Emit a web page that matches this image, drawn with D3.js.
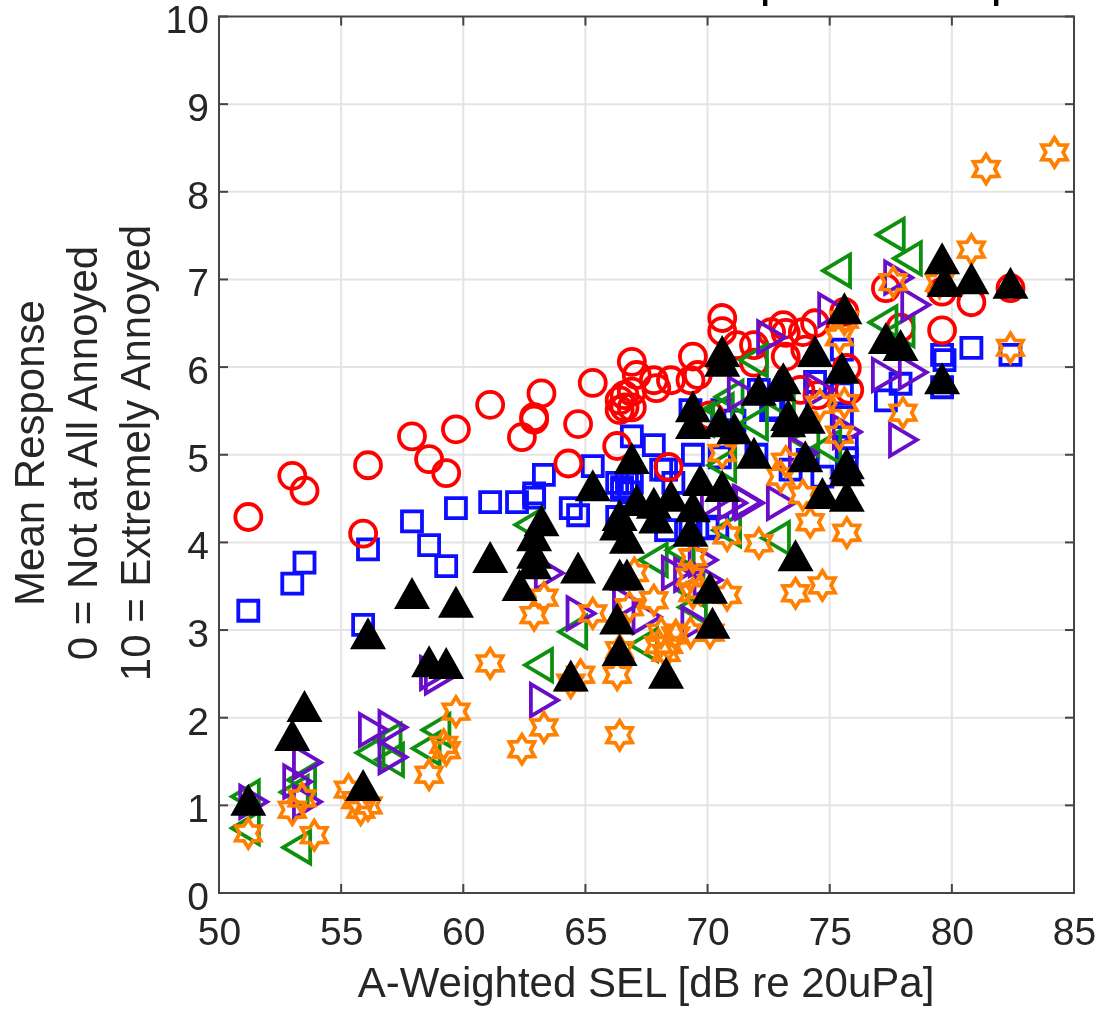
<!DOCTYPE html>
<html><head><meta charset="utf-8">
<script src="https://cdn.jsdelivr.net/npm/d3@7"></script>
<style>html,body{margin:0;padding:0;background:#fff}svg{display:block}text{font-family:"Liberation Sans",Arial,sans-serif}</style>
</head><body><svg id="c" width="1099" height="1012"></svg>
<script>
const xTicks=[50,55,60,65,70,75,80,85];
const yTicks=[0,1,2,3,4,5,6,7,8,9,10];
const xLabel="A-Weighted SEL [dB re 20uPa]";
const yLabels=["Mean Response","0 = Not at All Annoyed","10 = Extremely Annoyed"];
const titleText="Mean Data for All Stimuli: Mean Response for Group 1";
const red=[[51.2,4.29],[53,4.76],[53.5,4.59],[55.9,4.1],[56.1,4.88],[57.9,5.21],[58.6,4.95],[59.3,4.79],[59.7,5.29],[61.1,5.57],[62.4,5.2],[62.9,5.43],[62.9,5.4],[63.2,5.7],[64.3,4.9],[64.7,5.35],[65.3,5.82],[66.9,6.06],[66.3,5.1],[66.4,5.51],[66.4,5.62],[66.6,5.68],[66.9,5.72],[66.6,5.54],[66.9,5.54],[67.1,5.91],[67.8,5.85],[67.9,5.76],[68.5,5.85],[69.3,5.85],[69.4,6.12],[69.6,5.91],[68.4,4.86],[70.1,5.45],[70.6,6.56],[70.6,6.41],[71.2,6.25],[71.9,6.25],[71.9,6.05],[72.6,6.4],[73.1,6.48],[73.2,6.39],[73.9,6.4],[74.4,6.5],[73.2,6.12],[73.8,5.74],[74.5,5.68],[75.6,6.63],[75.7,5.99],[75.8,5.74],[77.3,6.9],[77.9,6.45],[79.6,6.86],[79.6,6.42],[80.8,6.74],[82.4,6.9],[74,6.2]];
const blue=[[51.2,3.22],[53,3.53],[53.5,3.77],[55.9,3.06],[56.1,3.92],[57.9,4.24],[58.6,3.97],[59.3,3.73],[59.7,4.39],[61.1,4.46],[62.2,4.46],[62.9,4.56],[62.9,4.51],[63.3,4.77],[64.4,4.39],[64.7,4.31],[65.3,4.87],[66.9,5.21],[67.8,5.11],[66.3,4.68],[66.7,4.68],[66.9,4.68],[66.5,4.63],[66.5,4.6],[66.8,4.57],[66.3,4.29],[68.3,4.83],[68.1,4.83],[68.6,4.68],[69.4,5],[68.3,4.14],[70,4.16],[70.4,4.18],[72,5],[69.3,5.51],[70.6,5.51],[71.1,5.39],[72.7,5.53],[72.6,5.51],[72.1,5.74],[74.4,5.83],[75.5,6.2],[75.5,5.7],[75.5,5.43],[75.7,4.96],[75.7,5.09],[73.4,4.83],[74.7,4.75],[74.1,4.94],[70.5,4.97],[77.3,5.62],[77.9,5.81],[79.6,6.14],[79.7,6.08],[79.6,5.77],[80.8,6.22],[82.4,6.14],[69.3,4.14]];
const green=[[51.1,1.1],[51.1,0.74],[53.2,0.52],[53.1,1.15],[53.4,1.29],[56.2,1.6],[57,1.52],[56.9,1.75],[58.5,1.65],[58.9,1.86],[62.7,4.2],[63.1,2.6],[64.5,2.98],[67.8,3.8],[67.4,2.83],[72.8,4.05],[69.4,3.26],[68.9,3.91],[75.3,7.1],[77.5,7.51],[78.2,7.24],[77.2,6.51],[77.9,6.42],[71.9,6.08],[70.6,4.88],[74.9,5.09],[70.9,5.66],[71.9,5.36],[73,5.59],[70.5,5.51],[70.8,4.14],[69.7,5.4],[69.3,3.46],[74,5.17]];
const purple=[[51.4,1.04],[53.2,1.27],[53.6,1.04],[53.6,1.49],[56.3,1.86],[57.1,1.89],[57.1,1.55],[58.8,2.51],[59,2.46],[63.3,2.2],[64.8,3.19],[69.2,3.63],[69.8,3.8],[70,3.57],[67.5,3.15],[66.7,3.31],[69.5,3.08],[63.5,3.65],[68.7,3.65],[71.6,4.46],[71,4.45],[73,4.45],[71.7,4.45],[78,5.17],[77.3,5.91],[78.4,5.94],[78.5,6.71],[77.8,7.02],[75.7,5.26],[73.9,5.02],[71.4,5.7],[72.6,6.34],[75.1,6.65],[74.6,5.74],[70.3,4.48]];
const orange=[[51.2,0.68],[53,0.95],[53.4,1.08],[53.9,0.66],[55.3,1.18],[55.8,0.95],[56.1,1],[55.6,1.06],[58.6,1.35],[59.3,1.63],[59.2,1.69],[59.7,2.07],[61.1,2.62],[62.4,1.64],[63.3,1.89],[66.4,1.8],[62.9,3.17],[63.3,3.37],[64.4,2.4],[64.8,2.49],[65.3,3.19],[66.3,2.49],[66.4,2.77],[66.8,3.26],[67.8,3.34],[67,3.65],[68.1,2.97],[68.3,2.74],[68,2.83],[68.4,2.83],[68.7,2.94],[69.3,2.97],[69.4,3.83],[69.3,3.61],[69.4,3.42],[70.8,3.4],[70.1,2.97],[70.8,4.08],[72.1,3.99],[74.2,4.23],[75.7,4.11],[73.6,3.42],[74.7,3.51],[80.8,7.34],[77.6,6.97],[79.5,6.96],[75.4,6.34],[82.4,6.22],[78,5.48],[75.6,5.59],[75.4,5.23],[74.6,5.57],[73.2,4.92],[73,4.75],[73.9,4.54],[70.6,5.02],[81.4,8.26],[84.2,8.45],[75.6,6.54],[69.7,3.46]];
const black=[[51.2,1.04],[53,1.78],[53.5,2.11],[55.9,1.21],[56.1,2.94],[57.9,3.4],[58.6,2.62],[59.3,2.6],[59.7,3.3],[61.1,3.81],[63.2,4.23],[62.9,4.06],[62.9,3.86],[62.9,3.74],[62.3,3.49],[64.7,3.69],[65.3,4.63],[66.9,4.94],[67.1,4.46],[66.4,4.29],[66.3,4.18],[66.7,4.03],[67.8,4.43],[67.9,4.26],[68.5,4.51],[69.7,4.69],[70.6,4.62],[69.4,4.39],[69.3,4.11],[66.4,3.61],[66.7,3.61],[70.1,3.46],[69.4,5.53],[69.4,5.34],[70.6,6.16],[70.6,6.05],[70.5,5.36],[71.1,5.28],[71.9,5],[72.1,5.72],[73.1,5.85],[72.9,5.77],[74.4,6.16],[75.6,6.65],[75.5,5.97],[73.3,5.43],[73.3,5.36],[74.1,5.4],[74,4.96],[75.7,4.88],[75.7,4.8],[74.7,4.54],[75.7,4.51],[73.6,3.83],[79.6,7.22],[79.7,6.96],[80.8,6.99],[82.4,6.94],[79.6,5.85],[77.3,6.31],[77.9,6.23],[66.3,3.11],[66.4,2.75],[64.4,2.46],[68.3,2.49],[70.2,3.06]];

const L=219,R=1074,T=16.5,B=893;
const x=d3.scaleLinear().domain([50,85]).range([L,R]);
const y=d3.scaleLinear().domain([0,10]).range([B,T]);
const svg=d3.select("#c");
const defs=svg.append("defs");
defs.append("filter").attr("id","soft").attr("x","-5%").attr("y","-5%").attr("width","110%").attr("height","110%")
  .append("feGaussianBlur").attr("stdDeviation",0.7);
const root=svg.append("g").attr("filter","url(#soft)");

root.append("text").attr("x",627).attr("y",-1).attr("text-anchor","middle")
  .attr("font-size",32).attr("font-weight","bold").attr("fill","#000").text(titleText);

const xAxis=d3.axisBottom(x).tickValues(xTicks).tickSize(0).tickPadding(24);
const yAxis=d3.axisLeft(y).tickValues(yTicks).tickSize(0).tickPadding(10);
root.append("g").attr("stroke","#e4e4e4").attr("stroke-width",2).selectAll("line").data(xTicks.slice(1,-1)).join("line")
  .attr("x1",d=>x(d)).attr("x2",d=>x(d)).attr("y1",T).attr("y2",B);
root.append("g").attr("stroke","#e4e4e4").attr("stroke-width",2).selectAll("line").data(yTicks.slice(1,-1)).join("line")
  .attr("y1",d=>y(d)).attr("y2",d=>y(d)).attr("x1",L).attr("x2",R);

const W=3.8;
const star=r=>{const p=[];for(let i=0;i<12;i++){const a=-Math.PI/2+i*Math.PI/6,q=i%2?r*0.6:r;p.push([q*Math.cos(a),q*Math.sin(a)]);}return "M"+p.join("L")+"Z";};
function series(data,path,stroke,fill,sw){
  root.append("g").selectAll("path").data(data).join("path")
    .attr("transform",d=>`translate(${x(d[0])},${y(d[1])})`)
    .attr("d",path).attr("fill",fill).attr("stroke",stroke).attr("stroke-width",sw).attr("stroke-linejoin","miter");
}
series(blue,"M-10,-10H10V10H-10Z","#0a0aff","none",W);
series(red,"M-13,0A13,13 0 1,1 13,0A13,13 0 1,1 -13,0Z","#ff0000","none",W);
series(green,"M-14,0L13,-16V16Z","#109010","none",W);
series(purple,"M14,0L-13,-16V16Z","#6a10c8","none",W);
series(orange,star(14.5),"#ff8000","none",W);
series(black,"M0,-18L18,14H-18Z","#000","#000",0);

root.append("rect").attr("x",L).attr("y",T).attr("width",R-L).attr("height",B-T).attr("fill","none").attr("stroke","#444").attr("stroke-width",2);
const tk=root.append("g").attr("stroke","#444").attr("stroke-width",2);
tk.selectAll(".a").data(xTicks).join("line").attr("x1",d=>x(d)).attr("x2",d=>x(d)).attr("y1",B).attr("y2",B-9);
tk.selectAll(".b").data(xTicks).join("line").attr("x1",d=>x(d)).attr("x2",d=>x(d)).attr("y1",T).attr("y2",T+9);
tk.selectAll(".c").data(yTicks).join("line").attr("y1",d=>y(d)).attr("y2",d=>y(d)).attr("x1",L).attr("x2",L+9);
tk.selectAll(".d").data(yTicks).join("line").attr("y1",d=>y(d)).attr("y2",d=>y(d)).attr("x1",R).attr("x2",R-9);

const gx=root.append("g").attr("transform",`translate(0,${B})`).call(xAxis);
const gy=root.append("g").attr("transform",`translate(${L},0)`).call(yAxis);
[gx,gy].forEach(g=>{g.select(".domain").remove();g.selectAll("text").attr("font-size",39).attr("fill","#262626").style("font-family",'"Liberation Sans",Arial,sans-serif');});
gy.selectAll("text").attr("dy","0.42em");

root.append("text").attr("x",646).attr("y",997).attr("text-anchor","middle").attr("font-size",42).attr("fill","#262626").text(xLabel);
const ylx=[44,97,150];
yLabels.forEach((t,i)=>root.append("text").attr("transform",`translate(${ylx[i]},${453}) rotate(-90)`).attr("text-anchor","middle").attr("font-size",42).attr("fill","#262626").text(t));
</script></body></html>
